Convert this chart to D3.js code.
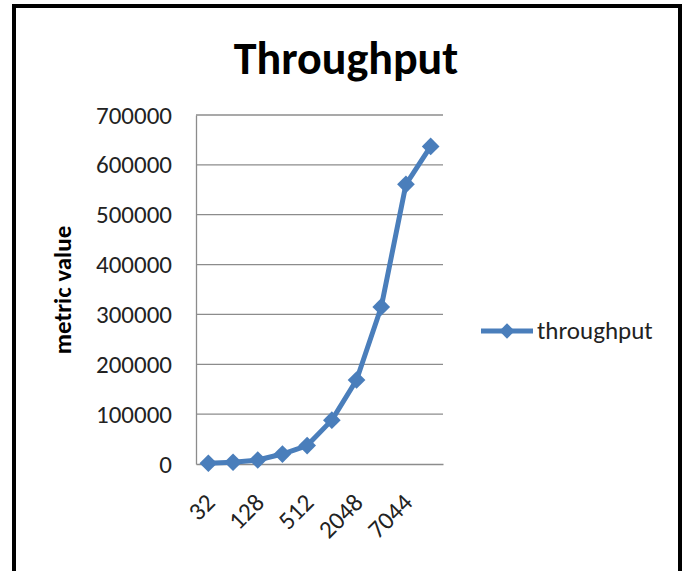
<!DOCTYPE html>
<html>
<head>
<meta charset="utf-8">
<script src="https://cdn.jsdelivr.net/npm/d3@7"></script>
<style>
  html, body { margin: 0; padding: 0; background: #fff; }
  svg { display: block; }
  text { font-family: Carlito, Lato, "Open Sans", sans-serif; }
</style>
</head>
<body>
<svg id="chart" width="691" height="571"></svg>
<script>
// Block sizes and measured throughput for each
const categories = ["32", "64", "128", "256", "512", "1024", "2048", "4096", "7044", "8192"];
const throughput = [1500, 3500, 8000, 20000, 37000, 88000, 168500, 315000, 561000, 637000];
const yTicks = [0, 100000, 200000, 300000, 400000, 500000, 600000, 700000];
const seriesName = "throughput";

const svg = d3.select("#chart");
const blue = "#4a7ebb";
const font = "Carlito, Lato, 'Open Sans', sans-serif";

// outer frame
svg.append("rect")
  .attr("x", 14).attr("y", 6)
  .attr("width", 666).attr("height", 580)
  .attr("fill", "#fff").attr("stroke", "#000").attr("stroke-width", 4);

const plot = { left: 196, right: 443, top: 115, bottom: 464 };

const x = d3.scaleBand().domain(categories).range([plot.left, plot.right]);
const y = d3.scaleLinear().domain([0, 700000]).range([plot.bottom, plot.top]);

// title
svg.append("text")
  .attr("x", 346).attr("y", 74)
  .attr("text-anchor", "middle")
  .attr("font-weight", "bold").attr("font-size", 46)
  .attr("fill", "#000")
  .text("Throughput");

// y-axis title
svg.append("text")
  .attr("transform", "translate(71,290) rotate(-90)")
  .attr("text-anchor", "middle")
  .attr("font-weight", "bold").attr("font-size", 25)
  .attr("fill", "#000")
  .text("metric value");

// gridlines
svg.append("g")
  .selectAll("line")
  .data(yTicks.filter(d => d > 0))
  .join("line")
  .attr("x1", plot.left).attr("x2", plot.right)
  .attr("y1", d => y(d)).attr("y2", d => y(d))
  .attr("stroke", "#8c8c8c").attr("stroke-width", 1.3);

// y axis
const yAxis = d3.axisLeft(y).tickValues(yTicks).tickSize(0).tickPadding(24).tickFormat(d3.format("d"));
const gy = svg.append("g").attr("transform", `translate(${plot.left},0)`).call(yAxis);
gy.select(".domain").attr("stroke", "#8c8c8c").attr("stroke-width", 1.3);
gy.selectAll("text").attr("font-size", 25).attr("fill", "#222").attr("font-family", font);

// x axis: every other category labelled
const xAxis = d3.axisBottom(x).tickSize(0).tickFormat((d, i) => i % 2 === 0 ? d : "");
const gx = svg.append("g").attr("transform", `translate(0,${plot.bottom})`).call(xAxis);
gx.select(".domain").attr("stroke", "#8c8c8c").attr("stroke-width", 1.3);
gx.selectAll("text")
  .attr("font-size", 25).attr("fill", "#222").attr("font-family", font)
  .attr("text-anchor", "end")
  .attr("dy", 0)
  .attr("y", 0)
  .attr("transform", "translate(8,40) rotate(-45)");

// series line
const cx = d => x(d) + x.bandwidth() / 2;
const line = d3.line().x((d, i) => cx(categories[i])).y(d => y(d));
svg.append("path")
  .datum(throughput)
  .attr("d", line)
  .attr("fill", "none").attr("stroke", blue)
  .attr("stroke-width", 5).attr("stroke-linejoin", "round");

const diamond = d3.symbol().type(d3.symbolDiamond2).size(200);
svg.append("g")
  .selectAll("path")
  .data(throughput)
  .join("path")
  .attr("transform", (d, i) => `translate(${cx(categories[i])},${y(d)})`)
  .attr("d", diamond)
  .attr("fill", blue);

// legend
const lg = svg.append("g").attr("transform", "translate(481,331)");
lg.append("line").attr("x1", 0).attr("x2", 52).attr("y1", 0).attr("y2", 0)
  .attr("stroke", blue).attr("stroke-width", 5);
lg.append("path").attr("transform", "translate(26,0)")
  .attr("d", d3.symbol().type(d3.symbolDiamond2).size(150)).attr("fill", blue);
lg.append("text").attr("x", 56).attr("y", 8)
  .attr("font-size", 25).attr("fill", "#222")
  .text(seriesName);
</script>
</body>
</html>
